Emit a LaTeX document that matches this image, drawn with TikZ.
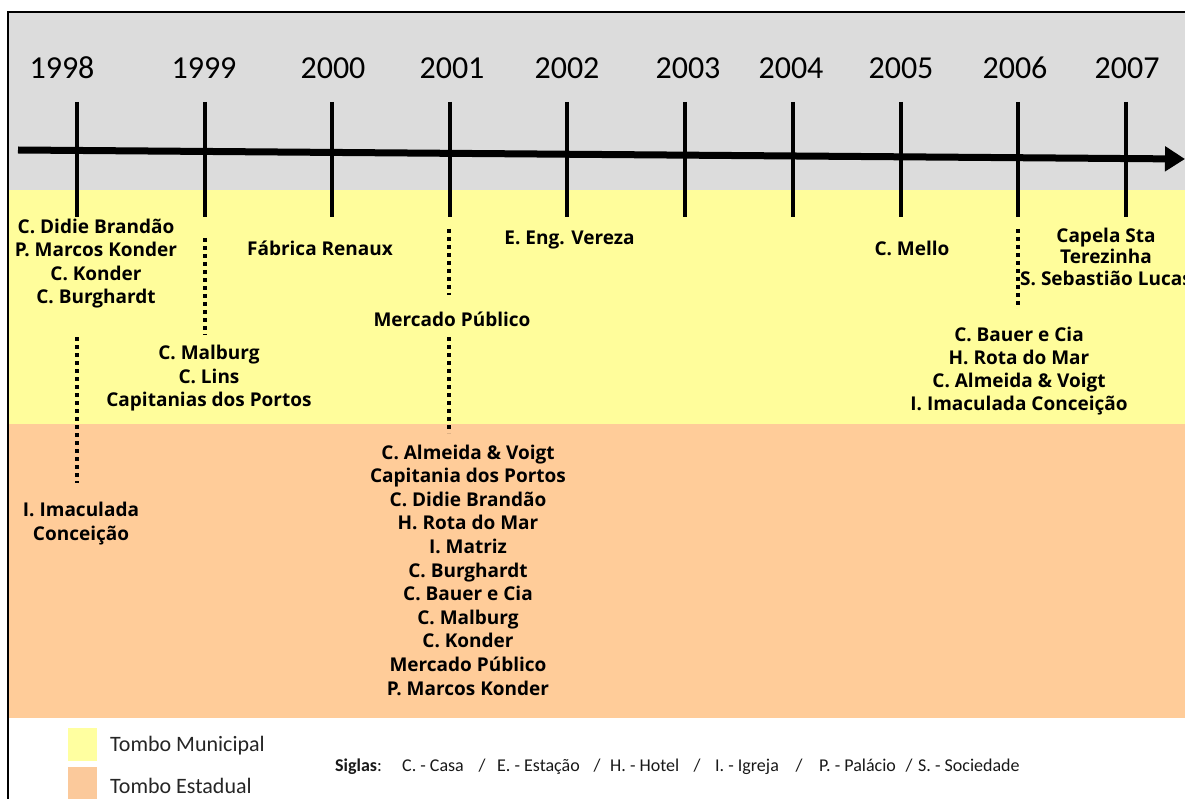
\documentclass[tikz,border=0pt]{standalone}
\usepackage{fontspec}
\setmainfont{Carlito}
\newfontfamily\labfont{Open Sans}
\usetikzlibrary{arrows.meta}
\definecolor{bandgray}{RGB}{220,220,220}
\definecolor{bandyellow}{RGB}{255,253,155}
\definecolor{bandorange}{RGB}{255,204,153}
\definecolor{legyellow}{RGB}{255,255,160}
\definecolor{legorange}{RGB}{251,201,155}
\tikzset{
  lab/.style={font=\labfont\bfseries\fontsize{19}{23.5}\selectfont, align=center, inner sep=0pt, text=black},
  yearlab/.style={font=\fontsize{32}{32}\selectfont, inner sep=0pt},
  legtext/.style={font=\fontsize{22}{22}\selectfont, inner sep=0pt, anchor=west, text=black!85},
  sigtext/.style={font=\fontsize{18}{18}\selectfont, inner sep=0pt, anchor=base west, text=black!90},
  sigslash/.style={font=\fontsize{18}{18}\selectfont, inner sep=0pt, anchor=base, text=black!90},
  ticker/.style={line width=3.5pt},
  dotline/.style={line width=4pt, dash pattern=on 4pt off 4pt},
  axisline/.style={line width=7pt, -{Triangle[length=20pt,width=24pt]}},
}
\begin{document}
\begin{tikzpicture}[x=1pt,y=-1pt]
\useasboundingbox (0,0) rectangle (1185,799);
\clip (0,0) rectangle (1185,799);
% bands
\fill[white] (0,0) rectangle (1185,799);
\fill[bandgray] (8,12) rectangle (1185,190);
\fill[bandyellow] (8,190) rectangle (1185,424);
\fill[bandorange] (8,424) rectangle (1185,718);
\draw[line width=2.5pt] (8,799) -- (8,12) -- (1185,12);
% years and ticks
\foreach \n/\lx/\tx in {1998/62/77, 1999/204/205, 2000/333/332, 2001/452/450, 2002/567/567, 2003/688/685, 2004/791/793, 2005/901/901, 2006/1015/1018, 2007/1127/1126}{
  \node[yearlab] (y\n) at (\lx,68) {\n};
  \coordinate (t\n top) at (\tx,102);
  \coordinate (t\n bot) at (\tx,217);
  \draw[ticker] (t\n top) -- (t\n bot);
}
% axis
\coordinate (axstart) at (18,150);
\coordinate (axend) at (1185,159);
\draw[axisline] (axstart) -- (axend);
% labels
\node[lab] (a98) at (96,263.5) {C. Didie Brandão\\P. Marcos Konder\\C. Konder\\C. Burghardt};
\node[lab] (b98) at (81,523.5) {I. Imaculada\\Conceição};
\node[lab] (c99) at (209,378.5) {C. Malburg\\C. Lins\\Capitanias dos Portos};
\node[lab] (fab) at (320,248) {Fábrica Renaux};
\node[lab] (merc) at (452,319) {Mercado Público};
\node[lab,font=\labfont\bfseries\fontsize{19}{23.6}\selectfont] (d01) at (468,570) {C. Almeida \& Voigt\\Capitania dos Portos\\C. Didie Brandão\\H. Rota do Mar\\I. Matriz\\C. Burghardt\\C. Bauer e Cia\\C. Malburg\\C. Konder\\Mercado Público\\P. Marcos Konder};
\node[lab] (ver) at (569.5,240) {E. Eng. Vereza};
\node[lab] (mel) at (912,248) {C. Mello};
\node[lab,font=\labfont\bfseries\fontsize{19}{21.5}\selectfont] (f07) at (1106,256.5) {Capela Sta\\Terezinha\\S. Sebastião Lucas};
\node[lab,font=\labfont\bfseries\fontsize{19}{23}\selectfont] (e06) at (1019,371) {C. Bauer e Cia\\H. Rota do Mar\\C. Almeida \& Voigt\\I. Imaculada Conceição};
% dotted connectors
\coordinate (d98a) at (77,337);
\coordinate (d98b) at (77,483);
\draw[dotline] (d98a) -- (d98b);
\coordinate (d99a) at (205,238);
\coordinate (d99b) at (205,335);
\draw[dotline] (d99a) -- (d99b);
\coordinate (d01a) at (449,229);
\coordinate (d01b) at (449,295);
\draw[dotline] (d01a) -- (d01b);
\coordinate (d01c) at (449,337);
\coordinate (d01d) at (449,433);
\draw[dotline] (d01c) -- (d01d);
\coordinate (d06a) at (1018,229);
\coordinate (d06b) at (1018,306);
\draw[dotline] (d06a) -- (d06b);
% legend
\fill[legyellow] (68,728) rectangle (97,761);
\fill[legorange] (68,767) rectangle (97,799);
\node[legtext] (lm) at (110,746) {Tombo Municipal};
\node[legtext] (le) at (110,786) {Tombo Estadual};
% siglas
\node[sigtext] (sg0) at (335,771) {\textbf{Siglas}:};
\node[sigtext] (sg1) at (402,771) {C. - Casa};
\node[sigslash] (sl1) at (482,771) {/};
\node[sigtext] (sg2) at (497,771) {E. - Estação};
\node[sigslash] (sl2) at (597,771) {/};
\node[sigtext] (sg3) at (610,771) {H. - Hotel};
\node[sigslash] (sl3) at (697,771) {/};
\node[sigtext] (sg4) at (715,771) {I. - Igreja};
\node[sigslash] (sl4) at (799,771) {/};
\node[sigtext] (sg5) at (819,771) {P. - Palácio};
\node[sigslash] (sl5) at (909,771) {/};
\node[sigtext] (sg6) at (918,771) {S. - Sociedade};
\end{tikzpicture}
\end{document}
